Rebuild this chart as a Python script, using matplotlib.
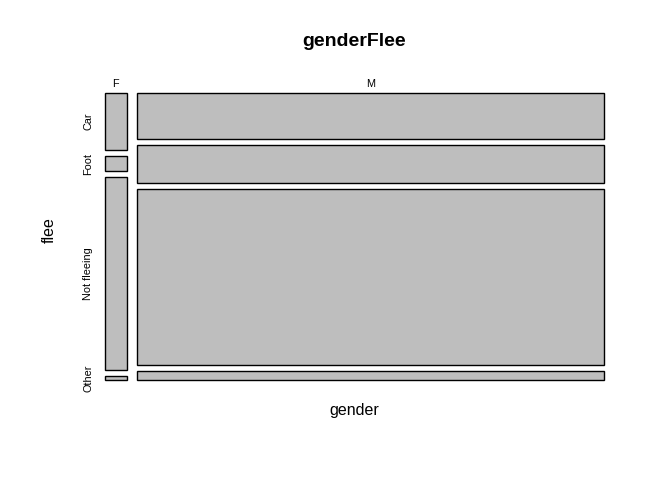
import matplotlib
matplotlib.use("Agg")
import matplotlib.pyplot as plt
from matplotlib.patches import Rectangle

plt.rcParams["font.family"] = ["Liberation Sans", "DejaVu Sans"]

genders = ["F", "M"]
flee_levels = ["Car", "Foot", "Not fleeing", "Other"]
# counts per gender, in flee_levels order
counts_f = [47, 12, 158, 3]
counts_m = [822, 669, 3136, 153]

W, H = 672, 480
fig = plt.figure(figsize=(W / 100, H / 100), dpi=100)
fig.patch.set_facecolor("white")

# mosaic region in pixels: x 105..604, y 93..380
left, right, top, bottom = 105, 604, 93, 380
ax = fig.add_axes([left / W, 1 - bottom / H, (right - left) / W, (bottom - top) / H])
ax.set_xlim(0, 1)
ax.set_ylim(0, 1)
ax.axis("off")

gap_x = 10 / (right - left)
gap_y = 6 / (bottom - top)

col_counts = [counts_f, counts_m]
totals = [sum(c) for c in col_counts]
grand = sum(totals)

x0 = 0.0
for gi, (g, cnts) in enumerate(zip(genders, col_counts)):
    w = (1 - gap_x * (len(genders) - 1)) * totals[gi] / grand
    y_top = 1.0
    avail = 1 - gap_y * (len(flee_levels) - 1)
    for li, c in enumerate(cnts):
        h = avail * c / totals[gi]
        ax.add_patch(Rectangle((x0, y_top - h), w, h, facecolor="#BEBEBE",
                               edgecolor="black", linewidth=1.0, clip_on=False))
        if gi == 0:
            ax.text(-17 / (right - left), y_top - h / 2, flee_levels[li], rotation=90,
                    ha="center", va="center", fontsize=7.8, color="black")
        y_top -= h + gap_y
    ax.text(x0 + w / 2, 1 + 9 / (bottom - top), g, ha="center", va="center",
            fontsize=7.8, color="black")
    x0 += w + gap_x

fig.text(354.5 / W, 1 - 42 / H, "genderFlee", ha="center", va="center",
         fontsize=14, fontweight="bold")
fig.text(354.5 / W, 1 - 411 / H, "gender", ha="center", va="center", fontsize=11.5)
fig.text(49 / W, 1 - 230.5 / H, "flee", ha="center", va="center", fontsize=11.5,
         rotation=90)

fig.savefig("out.png", dpi=100, facecolor="white")
